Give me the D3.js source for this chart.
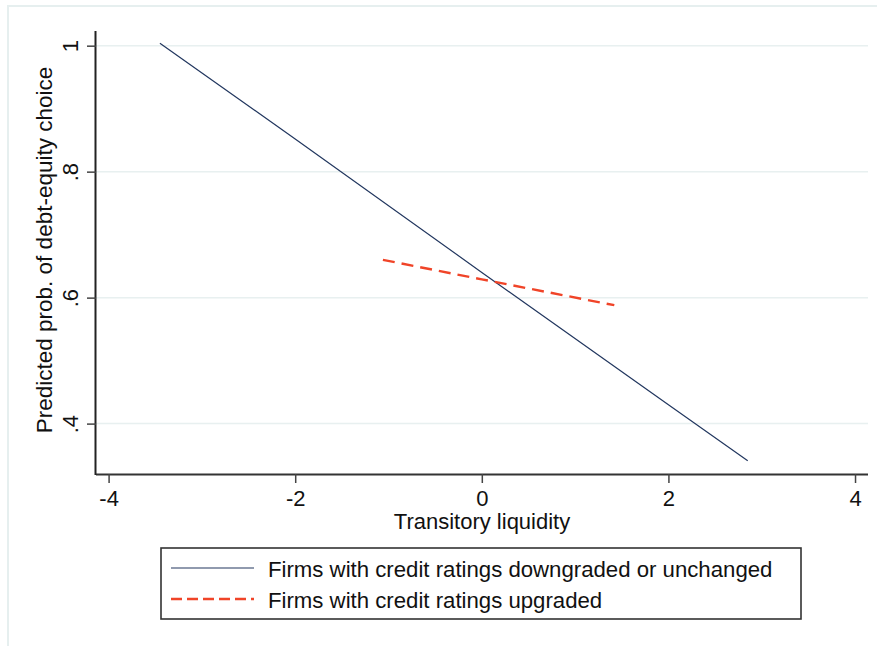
<!DOCTYPE html>
<html><head><meta charset="utf-8">
<script src="https://cdn.jsdelivr.net/npm/d3@7"></script>
<style>body{margin:0;background:#fff}svg{display:block}text{font-family:"Liberation Sans",Arial,sans-serif;fill:#111}</style>
</head><body><svg id="c" width="877" height="646"></svg>
<script>
const xTicks = [-4, -2, 0, 2, 4];
const yTicks = [0.4, 0.6, 0.8, 1];
const yTickLabels = [".4", ".6", ".8", "1"];
const seriesNames = ["Firms with credit ratings downgraded or unchanged", "Firms with credit ratings upgraded"];
const downX = [-3.45, -2, 0, 2, 2.85];
const downY = [1.004, 0.852, 0.640, 0.430, 0.341];
const upX = [-1.06, 0, 1.42];
const upY = [0.660, 0.629, 0.588];

const svg = d3.select("#c");
const W = 877, H = 646;
svg.append("path").attr("d", `M8,${H} L8,6 L${W},6`).attr("fill","none").attr("stroke","#e6efef").attr("stroke-width",2);

const x = d3.scaleLinear().domain([-4.135, 4.139]).range([96, 868]);
const y = d3.scaleLinear().domain([0.32, 1.0233]).range([474, 31]);

svg.append("g").selectAll("line").data(yTicks).join("line")
  .attr("x1", 96).attr("x2", 868).attr("y1", d=>y(d)).attr("y2", d=>y(d))
  .attr("stroke","#e8f0f0").attr("stroke-width",1.5);

const FS = 22;
const gx = svg.append("g").attr("transform","translate(0,474)")
  .call(d3.axisBottom(x).tickValues(xTicks).tickSize(9).tickPadding(7).tickFormat(d=>d<0?"-"+Math.abs(d):d));
gx.select(".domain").attr("stroke","#333").attr("stroke-width",2).attr("d","M96,0.5H868");
gx.selectAll(".tick line").attr("stroke","#444").attr("stroke-width",1.5);
gx.selectAll("text").attr("font-size",FS).attr("fill","#111").style("font-family","Liberation Sans, Arial, sans-serif");

const gy = svg.append("g").attr("transform","translate(96,0)")
  .call(d3.axisLeft(y).tickValues(yTicks).tickSize(9).tickPadding(0).tickFormat((d,i)=>yTickLabels[i]));
gy.select(".domain").attr("stroke","#222").attr("stroke-width",2).attr("d","M-0.5,31V475");
gy.selectAll(".tick line").attr("stroke","#444").attr("stroke-width",1.5);
gy.selectAll(".tick text").attr("font-size",FS).attr("fill","#111").attr("text-anchor","middle")
  .style("font-family","Liberation Sans, Arial, sans-serif")
  .attr("x",null).attr("dy",null)
  .attr("transform","translate(-18,0) rotate(-90)");

svg.append("text").attr("x",482).attr("y",529).attr("text-anchor","middle").attr("font-size",FS).text("Transitory liquidity");
svg.append("text").attr("transform","translate(52,250) rotate(-90)").attr("text-anchor","middle").attr("font-size",22.5).text("Predicted prob. of debt-equity choice");

const line = d3.line().x(d=>x(d[0])).y(d=>y(d[1]));
svg.append("path").datum(downX.map((v,i)=>[v,downY[i]])).attr("d",line)
  .attr("fill","none").attr("stroke","#22375f").attr("stroke-width",1.2);
svg.append("path").datum(upX.map((v,i)=>[v,upY[i]])).attr("d",line)
  .attr("fill","none").attr("stroke","#f04428").attr("stroke-width",2.4).attr("stroke-dasharray","12,7");

svg.append("rect").attr("x",161).attr("y",548).attr("width",640).attr("height",71)
  .attr("fill","#fff").attr("stroke","#333").attr("stroke-width",1.6);
const legY = [568, 599];
svg.append("line").attr("x1",171).attr("x2",254).attr("y1",legY[0]).attr("y2",legY[0]).attr("stroke","#22375f").attr("stroke-width",1.2);
svg.append("line").attr("x1",171).attr("x2",254).attr("y1",legY[1]).attr("y2",legY[1]).attr("stroke","#f04428").attr("stroke-width",2.4).attr("stroke-dasharray","11,5");
seriesNames.forEach((n,i)=>{
  svg.append("text").attr("x",268).attr("y",legY[i]+9).attr("font-size",22.2).text(n);
});
</script></body></html>
